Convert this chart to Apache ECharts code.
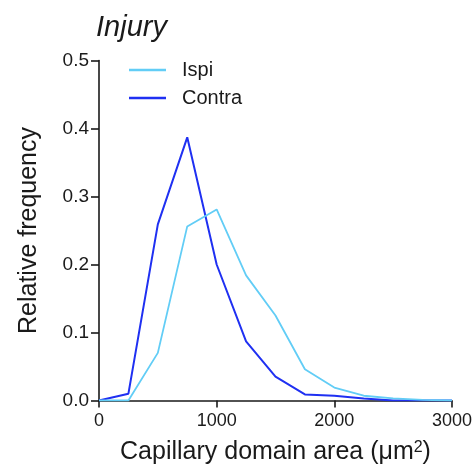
<!DOCTYPE html>
<html>
<head>
<meta charset="utf-8">
<script src="https://cdn.jsdelivr.net/npm/echarts@6/dist/echarts.min.js"></script>
<style>
  html, body { margin: 0; padding: 0; background: #fff; }
  #chart { width: 475px; height: 470px; }
</style>
</head>
<body>
<div id="chart"></div>
<script>
// Bin centres of capillary domain area (µm²)
const areaBins = [0, 250, 500, 750, 1000, 1250, 1500, 1750, 2000, 2250, 2500, 2750, 3000];
// Relative frequency per bin
const ispiFreq   = [0, 0, 0.070, 0.256, 0.281, 0.184, 0.125, 0.046, 0.019, 0.007, 0.003, 0.001, 0];
const contraFreq = [0, 0.010, 0.259, 0.387, 0.200, 0.087, 0.035, 0.009, 0.007, 0.003, 0, 0, 0];
const seriesNames = ['Ispi', 'Contra'];
const xTicks = [0, 1000, 2000, 3000];
const yTicks = [0.0, 0.1, 0.2, 0.3, 0.4, 0.5];

const font = 'Liberation Sans, Arial, Helvetica, sans-serif';
const ink = '#1a1a1a';

const pairs = (ys) => areaBins.map((x, i) => [x, ys[i]]);

const chart = echarts.init(document.getElementById('chart'), null, { renderer: 'canvas' });
chart.setOption({
  animation: false,
  backgroundColor: '#fff',
  title: {
    text: 'Injury',
    left: 96,
    top: 13,
    padding: 0,
    textStyle: { fontFamily: font, fontStyle: 'italic', fontWeight: 'normal', fontSize: 29, color: ink }
  },
  legend: {
    data: seriesNames,
    orient: 'vertical',
    left: 129,
    top: 59,
    padding: 0,
    icon: 'rect',
    itemWidth: 37,
    itemHeight: 2.5,
    itemGap: 6,
    textStyle: { fontFamily: font, fontSize: 20, color: ink, lineHeight: 22, padding: [0, 0, 0, 11] }
  },
  grid: { left: 99, right: 23, top: 60.5, bottom: 67.7, containLabel: false },
  xAxis: {
    type: 'value',
    min: xTicks[0],
    max: xTicks[xTicks.length - 1],
    interval: xTicks[1] - xTicks[0],
    name: 'Capillary domain area (μm{sup|2})',
    nameLocation: 'middle',
    nameGap: 39,
    nameTextStyle: {
      fontFamily: font, fontSize: 25, color: ink,
      rich: { sup: { fontFamily: font, fontSize: 16, color: ink, verticalAlign: 'top', padding: [0, 0, 10, 0] } }
    },
    axisLine: { lineStyle: { color: ink, width: 1.6 } },
    axisTick: { show: true, length: 7, lineStyle: { color: ink, width: 1.6 } },
    axisLabel: { fontFamily: font, fontSize: 18, color: ink, margin: 12, formatter: (v) => String(v) },
    splitLine: { show: false }
  },
  yAxis: {
    type: 'value',
    min: yTicks[0],
    max: yTicks[yTicks.length - 1],
    interval: 0.1,
    name: 'Relative frequency',
    nameLocation: 'middle',
    nameGap: 57,
    nameTextStyle: { fontFamily: font, fontSize: 25, color: ink },
    axisLine: { lineStyle: { color: ink, width: 1.6 } },
    axisTick: { show: true, length: 8, lineStyle: { color: ink, width: 1.6 } },
    axisLabel: { fontFamily: font, fontSize: 19, color: ink, margin: 10, formatter: (v) => v.toFixed(1) },
    splitLine: { show: false }
  },
  series: [
    {
      name: seriesNames[1],
      type: 'line',
      data: pairs(contraFreq),
      showSymbol: false,
      symbol: 'none',
      lineStyle: { color: '#1f30f2', width: 2 },
      itemStyle: { color: '#1f30f2' },
      z: 3
    },
    {
      name: seriesNames[0],
      type: 'line',
      data: pairs(ispiFreq),
      showSymbol: false,
      symbol: 'none',
      lineStyle: { color: '#62cdf6', width: 1.8 },
      itemStyle: { color: '#62cdf6' },
      z: 4
    }
  ]
});
</script>
</body>
</html>
